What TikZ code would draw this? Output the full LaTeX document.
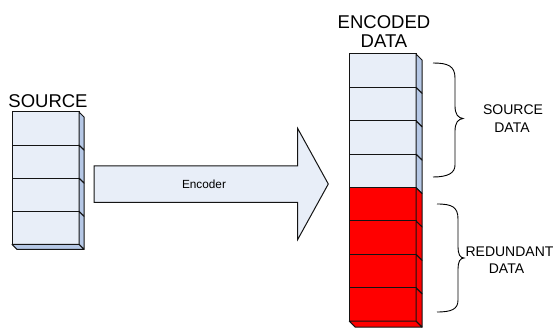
\documentclass[tikz,border=0pt]{standalone}
\usepackage{fontspec}
\setmainfont{Liberation Sans}
\definecolor{facefill}{RGB}{232,238,248}
\definecolor{sidefill}{RGB}{182,200,230}
\definecolor{edgecol}{RGB}{20,20,20}
\begin{document}
\begin{tikzpicture}[x=1pt,y=-1pt,
  cell/.style={draw=edgecol, line width=1pt, fill=facefill, minimum width=67pt, minimum height=33.1pt, inner sep=0pt, outer sep=0pt},
  redcell/.style={cell, fill=red, minimum width=66.7pt, minimum height=33.4pt},
  bluecell/.style={cell, minimum width=66.7pt, minimum height=33.4pt},
  sideface/.style={draw=edgecol, line width=1pt, fill=sidefill, line join=round},
  redside/.style={sideface, fill=red},
  bracestyle/.style={draw=black, line width=0.9pt},
  biglbl/.style={font=\fontsize{18.5}{20}\selectfont, inner sep=0pt},
  smalllbl/.style={font=\fontsize{14}{15}\selectfont, inner sep=0pt}
]
\useasboundingbox (0,0) rectangle (555,331);

% ---- SOURCE stack ----
\node[biglbl] (srclbl) at (48,101.5) {SOURCE};
\foreach \i/\yy in {1/128.55, 2/161.65, 3/194.75, 4/227.85} {
  \node[cell] (s\i) at (45.5,\yy) {};
  \path[sideface] (s\i.north east) -- ([shift={(5,5)}]s\i.north east) -- ([shift={(5,5)}]s\i.south east) -- (s\i.south east) -- cycle;
}
\path[sideface] (s4.south west) -- ([shift={(5,5)}]s4.south west) -- ([shift={(5,5)}]s4.south east) -- (s4.south east) -- cycle;

% ---- Encoder arrow ----
\path[draw=edgecol, line width=1pt, fill=facefill, line join=miter]
  (94,166) -- (297.7,166) -- (297.7,128.5) -- (328.3,184) -- (297.7,239.5) -- (297.7,202.5) -- (94,202.5) -- cycle;
\node[font=\fontsize{11.8}{13}\selectfont, inner sep=0pt] (enc) at (204,184.5) {Encoder};

% ---- ENCODED DATA stack ----
\node[biglbl] (enclbl) at (384,22.5) {ENCODED};
\node[biglbl] (datalbl) at (384,41.5) {DATA};
\foreach \i/\yy in {1/70.7, 2/104.1, 3/137.5, 4/170.9} {
  \node[bluecell] (e\i) at (382.65,\yy) {};
  \path[sideface] (e\i.north east) -- ([shift={(6,6)}]e\i.north east) -- ([shift={(6,6)}]e\i.south east) -- (e\i.south east) -- cycle;
}
\foreach \i/\yy in {5/204.3, 6/237.7, 7/271.1, 8/304.5} {
  \node[redcell] (e\i) at (382.65,\yy) {};
  \path[redside] (e\i.north east) -- ([shift={(6,6)}]e\i.north east) -- ([shift={(6,6)}]e\i.south east) -- (e\i.south east) -- cycle;
}
\path[redside] (e8.south west) -- ([shift={(6,6)}]e8.south west) -- ([shift={(6,6)}]e8.south east) -- (e8.south east) -- cycle;

% ---- Braces ----
\path[bracestyle] (433,63) .. controls (448,63) and (455,66) .. (455,78) -- (455,106)
  .. controls (455,114) and (458,118) .. (463,118.5)
  .. controls (458,119) and (455,123) .. (455,131) -- (455,165)
  .. controls (455,173) and (448,177) .. (433,177);
\node[smalllbl] (sdlbl1) at (513,110) {SOURCE};
\node[smalllbl] (sdlbl2) at (512,128) {DATA};

\path[bracestyle] (437,204) .. controls (452,204) and (458,207) .. (458,219) -- (458,247)
  .. controls (458,254) and (460,258) .. (464,258)
  .. controls (460,258) and (458,262) .. (458,269) -- (458,300)
  .. controls (458,309) and (452,312) .. (437,312);
\node[smalllbl] (rdlbl1) at (509.5,251.7) {REDUNDANT};
\node[smalllbl] (rdlbl2) at (506.5,269) {DATA};
\end{tikzpicture}
\end{document}
